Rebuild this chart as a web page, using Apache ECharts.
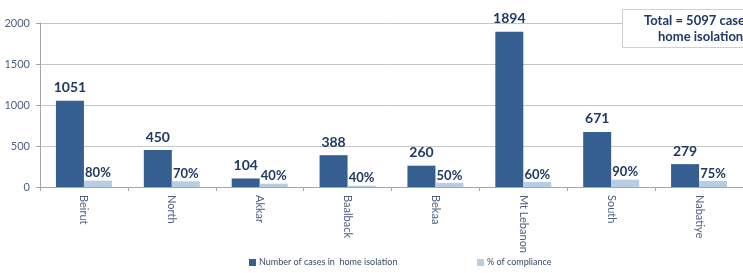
<!DOCTYPE html>
<html>
<head>
<meta charset="utf-8">
<script src="https://cdn.jsdelivr.net/npm/echarts@6/dist/echarts.min.js"></script>
<style>
  html, body { margin: 0; padding: 0; background: #fff; }
  #chart { width: 743px; height: 273px; }
</style>
</head>
<body>
<div id="chart"></div>
<script>
// regions
const categories = ["Beirut", "North", "Akkar", "Baalback", "Bekaa", "Mt Lebanon", "South", "Nabatiye"];
// number of cases in home isolation
const cases = [1051, 450, 104, 388, 260, 1894, 671, 279];
// % of compliance as printed on the bars
const compliancePct = [80, 70, 40, 40, 50, 60, 90, 75];
// heights of the light bars as drawn in the picture
const complianceBars = [78, 70, 40, 16, 50, 62, 90, 75];
const yTicks = { min: 0, max: 2000, interval: 500 };
const totalText = ["Total = 5097 cases in", "home isolation"];
const seriesNames = ["Number of cases in  home isolation", "% of compliance"];

const labelColor = "#1f3864";
const axisText = "#4a5f80";
const font = "Lato";

const legendStyle = {
    bottom: 1,
    itemWidth: 7,
    itemHeight: 7,
    itemGap: 4,
    icon: "rect",
    textStyle: { fontFamily: font, fontSize: 9, color: "#3a4a66", padding: [0, 0, 0, -2] }
};

const chart = echarts.init(document.getElementById("chart"));
chart.setOption({
    animation: false,
    grid: { left: 40, right: -2, top: 23, bottom: 86 },
    legend: [
        Object.assign({ left: 244, data: [seriesNames[0]] }, legendStyle),
        Object.assign({ left: 472, data: [seriesNames[1]] }, legendStyle)
    ],
    xAxis: {
        type: "category",
        data: categories,
        axisLine: { lineStyle: { color: "#a6a6a6" } },
        axisTick: { show: true, length: 4, lineStyle: { color: "#a6a6a6" } },
        axisLabel: {
            rotate: -90,
            interval: 0,
            margin: 8,
            fontFamily: font,
            fontSize: 11,
            color: axisText
        }
    },
    yAxis: {
        type: "value",
        min: yTicks.min,
        max: yTicks.max,
        interval: yTicks.interval,
        axisLine: { show: true, lineStyle: { color: "#a6a6a6" } },
        axisTick: { show: true, length: 4, lineStyle: { color: "#a6a6a6" } },
        axisLabel: {
            margin: 10,
            fontFamily: font,
            fontSize: 11,
            color: axisText,
            formatter: (v) => String(v)
        },
        splitLine: { lineStyle: { color: "#c4c4c4" } }
    },
    series: [
        {
            name: seriesNames[0],
            type: "bar",
            data: cases,
            barWidth: 28,
            barGap: "0%",
            itemStyle: { color: "#365f91" },
            label: {
                show: true,
                position: "top",
                distance: 6,
                fontFamily: font,
                fontWeight: "bold",
                fontSize: 14,
                color: labelColor
            }
        },
        {
            name: seriesNames[1],
            type: "bar",
            data: complianceBars,
            barWidth: 28,
            itemStyle: { color: "#b8cce4" },
            label: {
                show: true,
                position: "top",
                distance: 1,
                fontFamily: font,
                fontWeight: "bold",
                fontSize: 13,
                color: labelColor,
                formatter: (p) => compliancePct[p.dataIndex] + "%"
            }
        }
    ],
    graphic: [
        {
            type: "rect",
            left: 622,
            top: 9,
            shape: { width: 140, height: 38 },
            style: { fill: "#fff", stroke: "#cfcfcf", lineWidth: 1 },
            z: 10
        },
        {
            type: "text",
            left: 644,
            top: 14,
            style: {
                text: totalText[0],
                fill: labelColor,
                font: "bold 13px Lato"
            },
            z: 11
        },
        {
            type: "text",
            left: 658,
            top: 30,
            style: {
                text: totalText[1],
                fill: labelColor,
                font: "bold 13px Lato"
            },
            z: 11
        }
    ]
});
</script>
</body>
</html>
